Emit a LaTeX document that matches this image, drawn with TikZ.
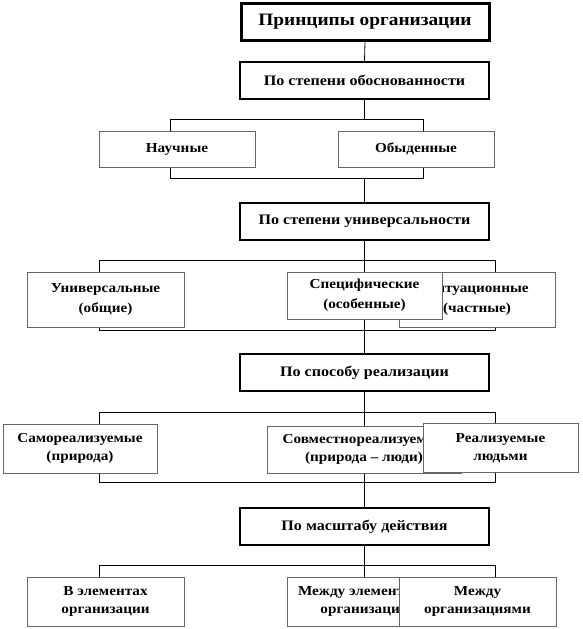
\documentclass[tikz,border=0pt]{standalone}
\usepackage{fontspec}
\setmainfont{Liberation Serif}[FakeStretch=1.11]
\usetikzlibrary{positioning,backgrounds}
\tikzset{
  link/.style={line width=0.8pt, draw=black},
  every node/.style={anchor=center}
}
\begin{document}
\begin{tikzpicture}[
  x=1pt, y=-1pt,
  head/.style={draw=black, fill=white, line width=3pt, inner sep=0pt, minimum width=248pt, minimum height=37pt, font=\fontsize{17.4}{20}\selectfont\bfseries},
  group/.style={draw=black, fill=white, line width=1.5pt, inner sep=0pt, minimum width=249pt, minimum height=37pt, font=\fontsize{14.5}{17}\selectfont\bfseries},
  leaf/.style={draw=black!60, fill=white, line width=0.8pt, inner sep=0pt, minimum width=156pt, minimum height=49pt, align=center, font=\fontsize{13.7}{18.5}\selectfont\bfseries}
]
\useasboundingbox (0,0) rectangle (582,629);

\node[head] (princ) at (365,22) {Принципы организации};

% по степени обоснованности
\node[group] (obosn) at (364.5,80.5) {По степени обоснованности};
\node[leaf, minimum height=36pt] (nauch) at (177,149) {Научные};
\node[leaf, minimum height=36pt] (obyd) at (416,149) {Обыденные};

% по степени универсальности
\node[group] (univer) at (364.5,221.5) {По степени универсальности};
\node[leaf, minimum width=157pt, minimum height=55pt, font=\fontsize{13.7}{20}\selectfont\bfseries] (obsch) at (105.5,299.5) {Универсальные\\(общие)};
\node[leaf, minimum height=55pt, font=\fontsize{13.7}{20}\selectfont\bfseries] (situ) at (477,299.5) {Ситуационные\\(частные)};
\node[leaf, minimum width=155pt, minimum height=47pt, font=\fontsize{13.7}{20}\selectfont\bfseries] (spec) at (364.5,295.5) {Специфические\\(особенные)};

% по способу реализации
\node[group] (sposob) at (364.5,372.5) {По способу реализации};
\node[leaf, minimum width=154pt] (samo) at (80,448.5) {Самореализуемые\\(природа)};
\node[leaf, minimum width=194pt, minimum height=47pt] (sovm) at (364,449.5) {Совместнореализуемые\\(природа – люди)};
\node[leaf, minimum width=155pt] (lyudi) at (500.5,448) {Реализуемые\\людьми};

% по масштабу действия
\node[group] (masht) at (364.5,526.5) {По масштабу действия};
\node[leaf, minimum width=157pt] (velem) at (105.5,601.5) {В элементах\\организации};
\node[leaf, minimum width=155pt] (mezhel) at (364.5,601.5) {Между элементами\\организации};
\node[leaf, minimum width=157pt] (mezhorg) at (477.5,601.5) {Между\\организациями};

\begin{pgfonlayer}{background}
\coordinate (aL) at (170,119); \coordinate (aR) at (423,119);
\coordinate (bL) at (170,178); \coordinate (bR) at (423,178);
\coordinate (cL) at (99,260);  \coordinate (cR) at (495,260);
\coordinate (dL) at (99,330);  \coordinate (dR) at (495,330);
\coordinate (eL) at (99,412);  \coordinate (eR) at (495,412);
\coordinate (fL) at (99,482);  \coordinate (fR) at (495,482);
\coordinate (gL) at (99,565);  \coordinate (gR) at (495,565);

\draw[link] (princ.south) -- (obosn.north);
\draw[link] (obosn.south) -- (obosn.south |- aL);
\draw[link] (obosn.south |- bL) -- (univer.north);
\draw[link] (univer.south) -- (sposob.north);
\draw[link] (sposob.south) -- (masht.north);
\draw[link] (masht.south) -- (mezhel.north);

\draw[link] (aL |- nauch.north) -- (aL) -- (aR) -- (aR |- obyd.north);
\draw[link] (bL |- nauch.south) -- (bL) -- (bR) -- (bR |- obyd.south);
\draw[link] (cL |- obsch.north) -- (cL) -- (cR) -- (cR |- situ.north);
\draw[link] (dL |- obsch.south) -- (dL) -- (dR) -- (dR |- situ.south);
\draw[link] (eL |- samo.north) -- (eL) -- (eR) -- (eR |- lyudi.north);
\draw[link] (fL |- samo.south) -- (fL) -- (fR) -- (fR |- lyudi.south);
\draw[link] (gL |- velem.north) -- (gL) -- (gR) -- (gR |- mezhorg.north);
\end{pgfonlayer}
\end{tikzpicture}
\end{document}
